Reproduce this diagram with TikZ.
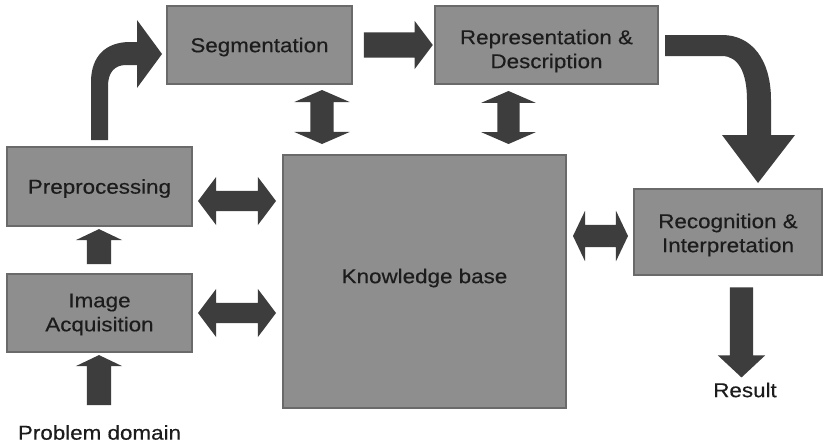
\documentclass[tikz,border=0pt]{standalone}
\usepackage{fontspec}
\setmainfont[FakeStretch=1.12,FakeBold=0.3]{Liberation Sans}
\usetikzlibrary{shapes.arrows}

\definecolor{boxfill}{HTML}{8E8E8E}
\definecolor{boxline}{HTML}{6A6A6A}
\definecolor{arrowfill}{HTML}{3D3D3D}
\definecolor{ink}{HTML}{1C1C1C}

\begin{document}
\begin{tikzpicture}[x=1pt,y=-1pt,
  font=\fontsize{20}{24}\selectfont,
  block/.style={draw=boxline, line width=1.2pt, fill=boxfill, inner sep=0pt},
  caption/.style={text=ink, inner sep=0pt, align=center},
  % one-way block arrow: length, half shaft, head extend, tip angle
  onearrow/.style n args={4}{single arrow, fill=arrowfill, draw=none,
    inner xsep=0pt, inner ysep=#2, minimum height=#1,
    single arrow head extend=#3, single arrow tip angle=#4},
  % two-way block arrow
  twoarrow/.style n args={4}{double arrow, fill=arrowfill, draw=none,
    inner xsep=0pt, inner ysep=#2, minimum height=#1,
    double arrow head extend=#3, double arrow tip angle=#4},
  bentarrow/.style={fill=arrowfill, draw=none}
]
\useasboundingbox (0,0) rectangle (830,447);
\fill[white] (0,0) rectangle (830,447);

% processing stages (box text set as a centred label)
\node[block, minimum width=185, minimum height=78,
  label={[caption, yshift=-2pt]center:Segmentation}] (seg) at (259.5,45) {};
\node[block, minimum width=223, minimum height=78,
  label={[caption, yshift=-6pt]center:{Representation \&\\Description}}] (rep) at (546.5,45) {};
\node[block, minimum width=185, minimum height=79,
  label={[caption, yshift=-2pt]center:Preprocessing}] (pre) at (99.5,186.5) {};
\node[block, minimum width=185, minimum height=78,
  label={[caption, yshift=-1.5pt]center:{Image\\Acquisition}}] (acq) at (99.5,313) {};
\node[block, minimum width=283, minimum height=253,
  label={[caption, yshift=3.5pt]center:Knowledge base}] (kb) at (424.5,281.5) {};
\node[block, minimum width=188, minimum height=86,
  label={[caption, yshift=-3pt]center:{Recognition \&\\Interpretation}}] (rec) at (728,232) {};

\node[caption] (dom) at (99.5,432.5) {Problem domain};
\node[caption] (res) at (745,390) {Result};

% straight flow arrows
\path (seg.east) -- (rep.west)
  node[midway, onearrow={69}{12.5}{11.5}{106}] (a1) {};
\node[onearrow={35}{12}{11}{129}, rotate=90] (a2) at (99,249.5) {};
\node[onearrow={50}{12}{11}{129}, rotate=90] (a3) at (99,383) {};
\node[onearrow={90}{11.5}{12}{94}, rotate=-90] (a4) at (741.5,327) {};

% exchanges with the knowledge base
\node[twoarrow={54}{11.5}{16}{133}, rotate=90] (b1) at (322,117) {};
\node[twoarrow={53}{11}{16}{133}, rotate=90] (b2) at (508.5,117.5) {};
\node[twoarrow={78}{10}{14}{106}] (b3) at (237,201) {};
\node[twoarrow={78}{10}{14}{106}] (b4) at (237,313) {};
\node[twoarrow={55}{11}{14}{129}] (b5) at (600.5,236) {};

% bent arrow: preprocessing up to segmentation
\fill[bentarrow] (91,140) -- (91,82) .. controls (91,56) and (106,42) .. (130,42)
  -- (137,42) -- (137,20) -- (162,54) -- (137,88) -- (137,65) -- (126,65)
  .. controls (115,65) and (108,72) .. (108,86) -- (108,140) -- cycle;

% bent arrow: description down to recognition
\fill[bentarrow] (665,35) -- (722,35) .. controls (752,35) and (771,60) .. (771,100)
  -- (771,135) -- (795,135) -- (758,183) -- (722,135) -- (747,135) -- (747,100)
  .. controls (747,72) and (738,56) .. (722,56) -- (665,56) -- cycle;
\end{tikzpicture}
\end{document}
